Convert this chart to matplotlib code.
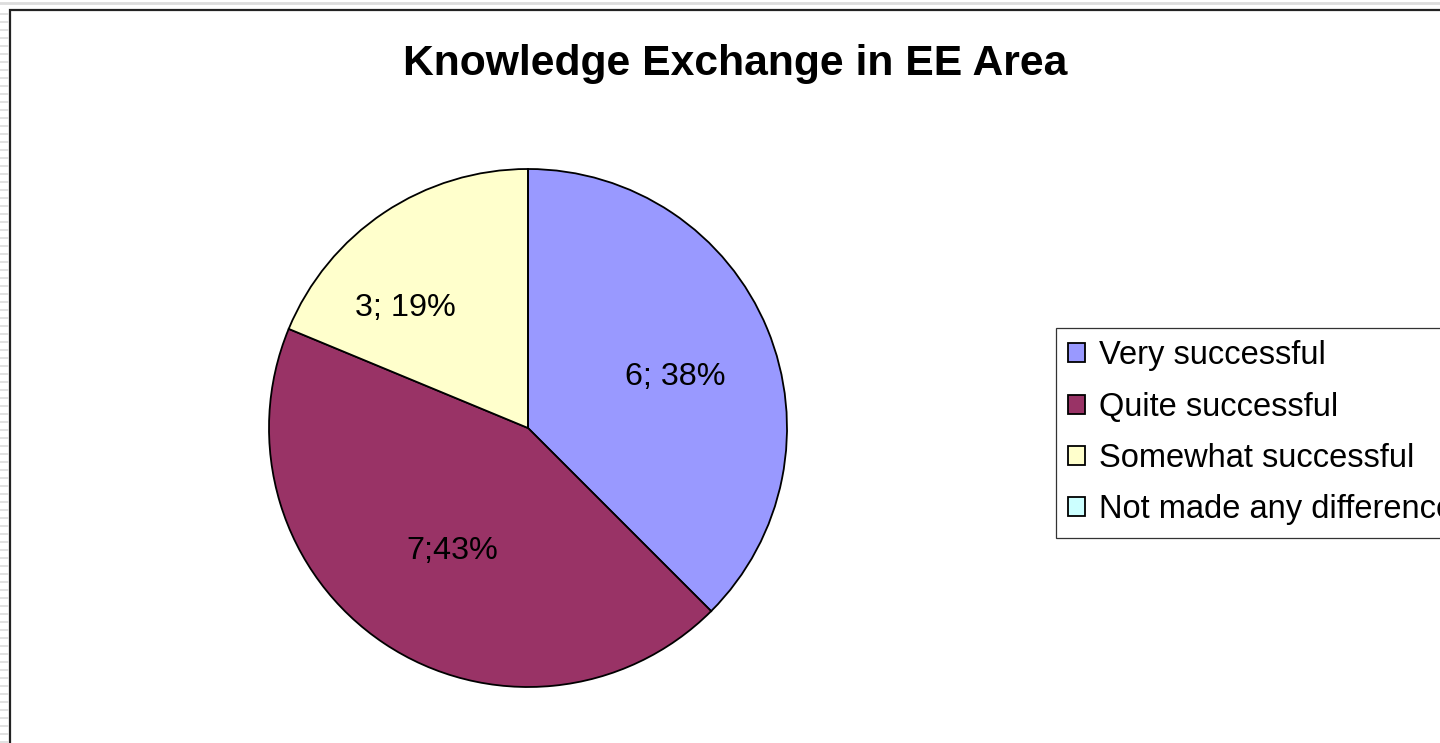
import matplotlib
matplotlib.use('Agg')
import matplotlib.pyplot as plt
from matplotlib.patches import Patch, Rectangle
from matplotlib.lines import Line2D
import numpy as np

plt.rcParams['font.family'] = ['Liberation Sans', 'DejaVu Sans']

# data
categories = ['Very successful', 'Quite successful', 'Somewhat successful',
              'Not made any difference']
counts = [6, 7, 3, 0]
slice_labels = ['6; 38%', '7;43%', '3; 19%', '']
colors = ['#9999FF', '#993366', '#FFFFCC', '#CCFFFF']
title = 'Knowledge Exchange in EE Area'

W, H = 1440, 743
fig = plt.figure(figsize=(W / 100, H / 100), dpi=100)
fig.patch.set_facecolor('white')

# pie axes: centre (528, 428) px, radius 259 px
cx, cy, r = 528, 428, 259
ax = fig.add_axes([(cx - r) / W, (H - cy - r) / H, 2 * r / W, 2 * r / H])
wedges, _ = ax.pie(counts, colors=colors, startangle=90, counterclock=False,
                   radius=1.0, wedgeprops=dict(edgecolor='black', linewidth=1.3))
ax.set_xlim(-1, 1)
ax.set_ylim(-1, 1)
ax.set_aspect('equal')
ax.axis('off')

# label placement (fraction of radius, angle in degrees)
label_pos = [(0.60, 19), (0.557, -121.8), (0.663, 135.6)]
for lab, (d, a) in zip(slice_labels, label_pos):
    t = np.radians(a)
    ax.text(d * np.cos(t), d * np.sin(t), lab, ha='center', va='center',
            fontsize=23.3)

fig.text(735 / W, 1 - 64 / H, title, ha='center', va='center',
         fontsize=30.7, fontweight='bold')

handles = [Patch(facecolor=c, edgecolor='black', linewidth=1.3) for c in colors]
leg = fig.legend(handles, categories, loc='upper left',
                 bbox_to_anchor=(1056 / W, 1 - 328 / H), fontsize=23.5,
                 handlelength=0.52, handleheight=0.52, handletextpad=0.42,
                 labelspacing=0.62, borderpad=0.38, borderaxespad=0,
                 frameon=True, fancybox=False, edgecolor='black')
leg.get_frame().set_linewidth(0.9)

# chart frame and spreadsheet edge
fig.add_artist(Rectangle((10 / W, -0.1), 1.2, 1 - 10 / H + 0.1,
                         transform=fig.transFigure, fill=False,
                         edgecolor='#222222', linewidth=1.6))
fig.add_artist(Line2D([0, 1], [1 - 3 / H] * 2, transform=fig.transFigure,
                      color='#dddddd', linewidth=2))
for yp in range(14, H, 8):
    fig.add_artist(Line2D([0, 8 / W], [1 - yp / H] * 2,
                          transform=fig.transFigure,
                          color='#dcdcdc', linewidth=1.2))

fig.savefig('out.png', dpi=100)
